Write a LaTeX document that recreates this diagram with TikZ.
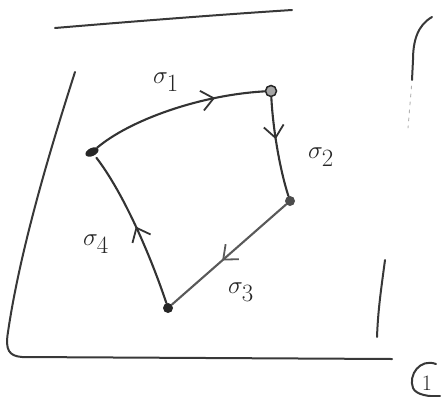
\documentclass[tikz,border=0pt]{standalone}
\usetikzlibrary{arrows.meta,decorations.markings,shapes.geometric}
\begin{document}
\begin{tikzpicture}[x=1pt,y=-1pt,
  stroke/.style={line width=2.1pt,line cap=round,draw=black!80},
  frame/.style={line width=2pt,line cap=round,draw=black!78},
  midarrow/.style={postaction={decorate},decoration={markings,
     mark=at position #1 with {\arrow{Straight Barb[length=12pt,width=20pt,line width=1.8pt]}}}},
  lbl/.style={font=\fontsize{36}{38}\selectfont,inner sep=0pt,text=black!85},
  dotv/.style={circle,inner sep=0pt,minimum size=10pt,fill=black!85}]
\useasboundingbox (0,0) rectangle (443,396);
% frame strokes
\draw[frame] (55,28) .. controls (150,20) and (230,14) .. (292,10);
\draw[frame] (75,72) .. controls (50,150) and (20,250) .. (8,332)
  .. controls (5,350) and (9,356) .. (22,357) -- (392,359);
\draw[frame] (432,17) .. controls (418,25) and (413,40) .. (413,60) -- (412,80);
\draw[frame,draw=black!30,line width=0.9pt,dash pattern=on 3pt off 5pt] (411.5,86) -- (408,128);
\draw[frame] (385,260) .. controls (381,290) and (378,310) .. (377,337);
\draw[frame] (436,364) .. controls (420,358) and (408,375) .. (413,388)
  .. controls (416,395) and (430,397) .. (440,396);
\node[font=\fontsize{22}{24}\selectfont,inner sep=0pt,text=black!85] (one) at (427,383) {1};
% vertices
\node[ellipse,fill=black!85,minimum width=14pt,minimum height=8pt,inner sep=0pt,rotate=25] (A) at (92,152) {};
\node[circle,draw=black!85,fill=black!35,line width=1.5pt,minimum size=11pt,inner sep=0pt] (B) at (271,91) {};
\node[dotv,fill=black!70] (C) at (290,201) {};
\node[dotv] (D) at (168,308) {};
% edges
\draw[stroke,midarrow=0.72] (A) .. controls (130,120) and (200,95) .. (B);
\draw[stroke,midarrow=0.42] (B) .. controls (273,130) and (280,170) .. (C);
\draw[stroke,draw=black!65,midarrow=0.56] (C) -- (D);
\draw[stroke,midarrow=0.5,shorten >=3pt] (D) .. controls (152,260) and (125,195) .. (A);
% labels
\node[lbl] (s1) at (166,82) {$\sigma_1$};
\node[lbl] (s2) at (321,157) {$\sigma_2$};
\node[lbl] (s3) at (241,292) {$\sigma_3$};
\node[lbl] (s4) at (96,244) {$\sigma_4$};
\end{tikzpicture}
\end{document}
